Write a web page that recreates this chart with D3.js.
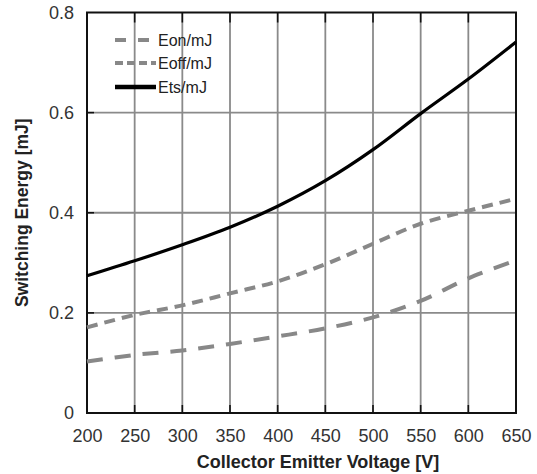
<!DOCTYPE html>
<html>
<head>
<meta charset="utf-8">
<script src="https://cdn.jsdelivr.net/npm/d3@7"></script>
<style>
  html, body { margin: 0; padding: 0; background: #fff; }
  svg { display: block; font-family: "Liberation Sans", Arial, sans-serif; }
</style>
</head>
<body>
<svg id="chart" width="537" height="474"></svg>
<script>
// Collector-emitter voltage samples [V]
const voltages = [200, 250, 300, 350, 400, 450, 500, 550, 600, 650];
// Switching energies [mJ]
const eon  = [0.103, 0.116, 0.125, 0.138, 0.153, 0.169, 0.191, 0.224, 0.269, 0.305];
const eoff = [0.171, 0.196, 0.215, 0.239, 0.263, 0.297, 0.338, 0.378, 0.404, 0.428];
const ets  = [0.274, 0.304, 0.336, 0.371, 0.413, 0.464, 0.526, 0.598, 0.667, 0.741];

const xTicks = [200, 250, 300, 350, 400, 450, 500, 550, 600, 650];
const yTicks = [0, 0.2, 0.4, 0.6, 0.8];
const yTickLabels = ["0", "0.2", "0.4", "0.6", "0.8"];

const seriesNames = ["Eon/mJ", "Eoff/mJ", "Ets/mJ"];

const svg = d3.select("#chart");
const plotL = 87, plotR = 516, plotT = 12.5, plotB = 413;

const x = d3.scaleLinear().domain([200, 650]).range([plotL, plotR]);
const y = d3.scaleLinear().domain([0, 0.8]).range([plotB, plotT]);

// grid lines
const grid = svg.append("g").attr("stroke", "#8a8a8a").attr("stroke-width", 1.8);
xTicks.slice(1, -1).forEach(v => {
  grid.append("line").attr("x1", x(v)).attr("x2", x(v)).attr("y1", plotT).attr("y2", plotB);
});
yTicks.slice(1, -1).forEach(v => {
  grid.append("line").attr("x1", plotL).attr("x2", plotR).attr("y1", y(v)).attr("y2", y(v));
});

// inward tick marks on bottom, top and left edges
const tk = svg.append("g").attr("stroke", "#111").attr("stroke-width", 1.6);
xTicks.slice(1, -1).forEach(v => {
  tk.append("line").attr("x1", x(v)).attr("x2", x(v)).attr("y1", plotB).attr("y2", plotB - 8);
  tk.append("line").attr("x1", x(v)).attr("x2", x(v)).attr("y1", plotT).attr("y2", plotT + 10);
});
yTicks.slice(1, -1).forEach(v => {
  tk.append("line").attr("x1", plotL).attr("x2", plotL + 7).attr("y1", y(v)).attr("y2", y(v));
});

// frame
svg.append("rect")
  .attr("x", plotL).attr("y", plotT)
  .attr("width", plotR - plotL).attr("height", plotB - plotT)
  .attr("fill", "none").attr("stroke", "#111").attr("stroke-width", 2);

// axes labels
const xAxis = d3.axisBottom(x).tickValues(xTicks).tickFormat(d3.format("d")).tickSize(0).tickPadding(16);
const gx = svg.append("g").attr("transform", `translate(0,${plotB})`).call(xAxis);
gx.select(".domain").remove();
gx.selectAll("text").attr("font-size", 18).attr("fill", "#333").attr("font-family", "Liberation Sans, Arial, sans-serif");

const yAxis = d3.axisLeft(y).tickValues(yTicks).tickFormat((d, i) => yTickLabels[i]).tickSize(0).tickPadding(13);
const gy = svg.append("g").attr("transform", `translate(${plotL},0)`).call(yAxis);
gy.select(".domain").remove();
gy.selectAll("text").attr("font-size", 18).attr("fill", "#333").attr("font-family", "Liberation Sans, Arial, sans-serif");

svg.append("text")
  .attr("x", 318).attr("y", 468)
  .attr("text-anchor", "middle")
  .attr("font-size", 18).attr("font-weight", "bold").attr("fill", "#222")
  .text("Collector Emitter Voltage [V]");

svg.append("text")
  .attr("transform", `translate(28,${(plotT + plotB) / 2}) rotate(-90)`)
  .attr("text-anchor", "middle")
  .attr("font-size", 17.5).attr("font-weight", "bold").attr("fill", "#222")
  .text("Switching Energy [mJ]");

// curves
const line = d3.line()
  .x((d, i) => x(voltages[i]))
  .y(d => y(d))
  .curve(d3.curveCatmullRom.alpha(0.5));

const styles = [
  { data: eon,  color: "#888", width: 4, dash: "16,12" },
  { data: eoff, color: "#888", width: 4, dash: "11,7" },
  { data: ets,  color: "#000", width: 3.2, dash: null }
];

styles.forEach(s => {
  const p = svg.append("path")
    .attr("d", line(s.data))
    .attr("fill", "none")
    .attr("stroke", s.color)
    .attr("stroke-width", s.width);
  if (s.dash) p.attr("stroke-dasharray", s.dash);
});

// legend
const legendDash = ["11,12", "8,4", null];
const legendY = [40, 63, 87];
const leg = svg.append("g");
seriesNames.forEach((name, i) => {
  const s = styles[i];
  const l = leg.append("line")
    .attr("x1", 115).attr("x2", 156)
    .attr("y1", legendY[i]).attr("y2", legendY[i])
    .attr("stroke", s.color)
    .attr("stroke-width", i === 2 ? 4.5 : 4);
  if (legendDash[i]) l.attr("stroke-dasharray", legendDash[i]);
  leg.append("text")
    .attr("x", 158).attr("y", legendY[i])
    .attr("dy", "0.36em")
    .attr("font-size", 16).attr("fill", "#222")
    .text(name);
});
</script>
</body>
</html>
